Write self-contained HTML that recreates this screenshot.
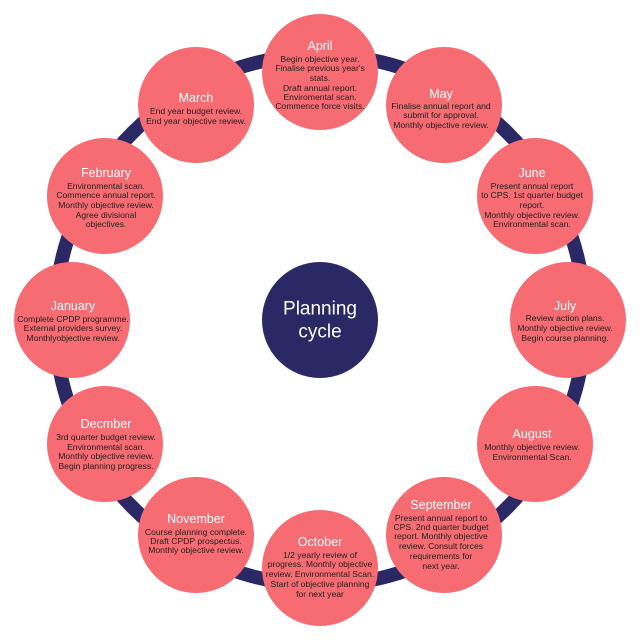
<!DOCTYPE html>
<html><head><meta charset="utf-8"><style>html,body{margin:0;padding:0;background:#fff}svg{display:block}text{font-family:"Liberation Sans",sans-serif;text-anchor:middle;dominant-baseline:central}.t{fill:#fff;font-size:12.5px}.b{fill:#222;font-size:8.6px}</style></head><body>
<svg width="640" height="640" viewBox="0 0 640 640">
<circle cx="320" cy="320" r="265" fill="none" stroke="#2b2866" stroke-width="14"/>
<g fill="#f76b73">
<circle cx="320" cy="72" r="58"/><circle cx="444" cy="105" r="58"/><circle cx="535" cy="196" r="58"/>
<circle cx="568" cy="320" r="58"/><circle cx="535" cy="444" r="58"/><circle cx="444" cy="535" r="58"/>
<circle cx="320" cy="568" r="58"/><circle cx="196" cy="535" r="58"/><circle cx="105" cy="444" r="58"/>
<circle cx="72" cy="320" r="58"/><circle cx="105" cy="196" r="58"/><circle cx="196" cy="105" r="58"/>
</g>
<circle cx="320" cy="320" r="58" fill="#2b2866"/>
<text x="320" y="309" fill="#fff" style="font-size:19px">Planning</text>
<text x="320" y="332" fill="#fff" style="font-size:19px">cycle</text>

<text class="t" x="320" y="46">April</text>
<text class="b" x="320" y="59">Begin objective year.</text>
<text class="b" x="320" y="68">Finalise previous year's</text>
<text class="b" x="320" y="78">stats.</text>
<text class="b" x="320" y="88">Draft annual report.</text>
<text class="b" x="320" y="97">Enviromental scan.</text>
<text class="b" x="320" y="106">Commence force visits.</text>

<text class="t" x="441" y="94">May</text>
<text class="b" x="441" y="106">Finalise annual report and</text>
<text class="b" x="441" y="115">submit for approval.</text>
<text class="b" x="441" y="125">Monthly objective review.</text>

<text class="t" x="532" y="173">June</text>
<text class="b" x="532" y="186">Present annual report</text>
<text class="b" x="532" y="195">to CPS. 1st quarter budget</text>
<text class="b" x="532" y="205">report.</text>
<text class="b" x="532" y="215">Monthly objective review.</text>
<text class="b" x="532" y="224">Environmental scan.</text>

<text class="t" x="565" y="306">July</text>
<text class="b" x="565" y="318">Review action plans.</text>
<text class="b" x="565" y="328">Monthly objective review.</text>
<text class="b" x="565" y="338">Begin course planning.</text>

<text class="t" x="532" y="434">August</text>
<text class="b" x="532" y="447">Monthly objective review.</text>
<text class="b" x="532" y="457">Environmental Scan.</text>

<text class="t" x="441" y="505">September</text>
<text class="b" x="441" y="518">Present annual report to</text>
<text class="b" x="441" y="527">CPS. 2nd quarter budget</text>
<text class="b" x="441" y="536">report. Monthly objective</text>
<text class="b" x="441" y="546">review. Consult forces</text>
<text class="b" x="441" y="556">requirements for</text>
<text class="b" x="441" y="566">next year.</text>

<text class="t" x="320" y="542">October</text>
<text class="b" x="320" y="555">1/2 yearly review of</text>
<text class="b" x="320" y="564">progress. Monthly objective</text>
<text class="b" x="320" y="574">review. Environmental Scan.</text>
<text class="b" x="320" y="584">Start of objective planning</text>
<text class="b" x="320" y="594">for next year</text>

<text class="t" x="196" y="519">November</text>
<text class="b" x="196" y="532">Course planning complete.</text>
<text class="b" x="196" y="541">Draft CPDP prospectus.</text>
<text class="b" x="196" y="550">Monthly objective review.</text>

<text class="t" x="106" y="424">Decmber</text>
<text class="b" x="106" y="437">3rd quarter budget review.</text>
<text class="b" x="106" y="447">Environmental scan.</text>
<text class="b" x="106" y="456">Monthly objective review.</text>
<text class="b" x="106" y="466">Begin planning progress.</text>

<text class="t" x="73" y="306">January</text>
<text class="b" x="73" y="319">Complete CPDP programme.</text>
<text class="b" x="73" y="328">External providers survey.</text>
<text class="b" x="73" y="338">Monthlyobjective review.</text>

<text class="t" x="106" y="173">February</text>
<text class="b" x="106" y="186">Environmental scan.</text>
<text class="b" x="106" y="195">Commence annual report.</text>
<text class="b" x="106" y="205">Monthly objective review.</text>
<text class="b" x="106" y="215">Agree divisional</text>
<text class="b" x="106" y="224">objectives.</text>

<text class="t" x="196" y="98">March</text>
<text class="b" x="196" y="111">End year budget review.</text>
<text class="b" x="196" y="121">End year objective review.</text>
</svg>
</body></html>
